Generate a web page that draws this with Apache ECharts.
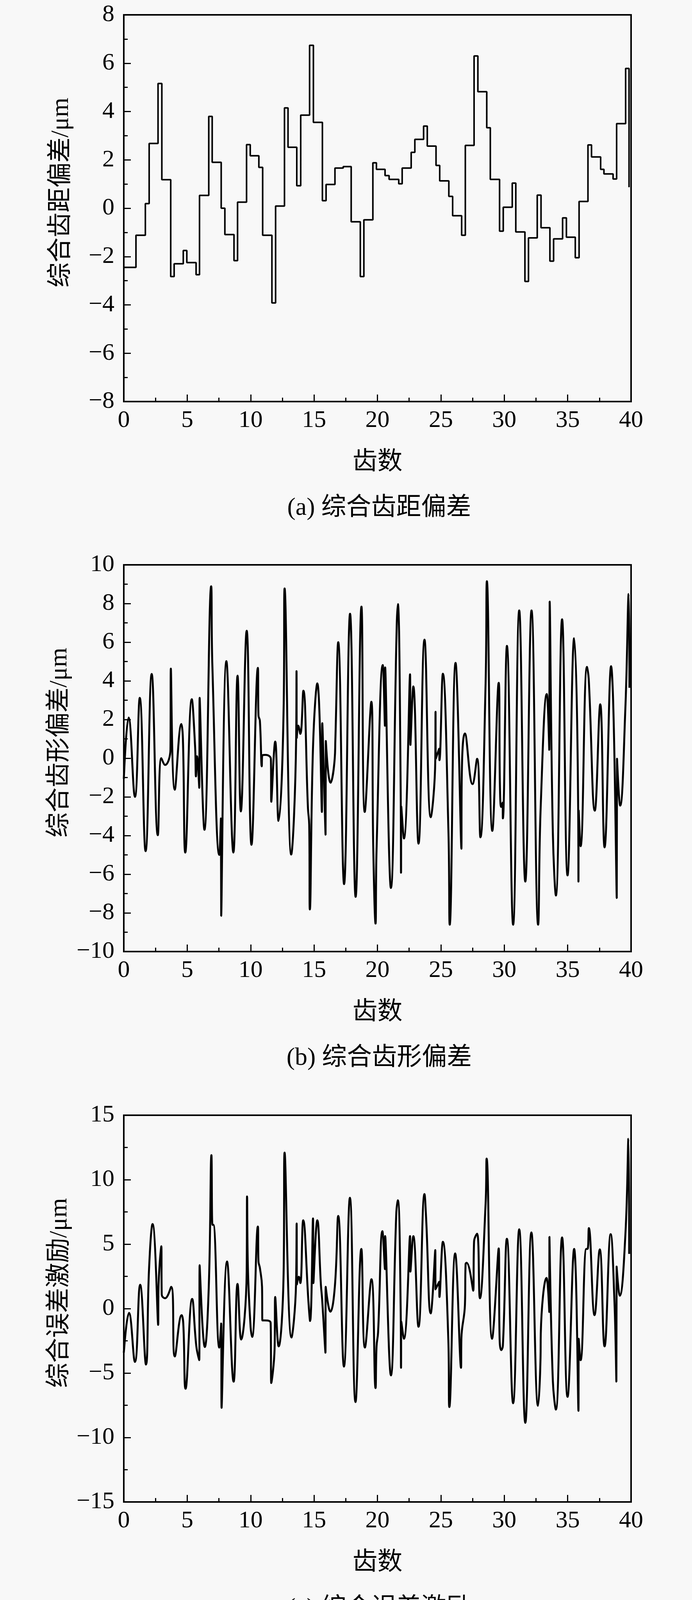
<!DOCTYPE html>
<html>
<head>
<meta charset="UTF-8">
<title>综合误差激励</title>
<script type="text/javascript" src="https://cdn.jsdelivr.net/npm/echarts@6/dist/echarts.min.js"></script>
<style>html,body{margin:0;padding:0;background:#f8f8f8;}</style>
</head>
<body>
<div id="main" style="width:1772px;height:4156px;"></div>

<script type="text/javascript">
// (a) 综合齿距偏差 - step line, x = tooth position where level starts
var pitchX = [0,0.96,1.7,2.0,2.7,3.0,3.7,3.97,4.69,4.97,5.7,5.97,6.7,6.97,7.68,7.97,8.69,8.97,9.68,9.97,
  10.65,10.95,11.68,11.97,12.67,12.95,13.64,13.95,14.65,14.95,15.66,15.95,16.65,17.3,17.93,18.65,18.93,19.64,19.92,
  20.6,20.92,21.68,21.95,22.66,22.95,23.64,23.93,24.62,24.91,25.63,25.93,26.64,26.93,27.62,27.92,28.62,28.9,29.63,29.92,
  30.63,30.91,31.63,31.91,32.6,32.9,33.6,33.89,34.6,34.9,35.6,35.9,36.6,36.88,37.6,37.86,38.58,38.86,39.57,39.84];
var pitchDev = [-2.45,-1.12,0.19,2.68,5.16,1.18,-2.83,-2.30,-1.75,-2.25,-2.75,0.53,3.80,1.90,0.0,-1.09,-2.17,0.25,2.63,2.17,
  1.69,-1.12,-3.92,0.09,4.15,2.52,0.93,3.85,6.74,3.55,0.31,0.98,1.66,1.72,-0.56,-2.83,-0.48,1.88,1.61,
  1.35,1.19,1.01,1.66,2.31,2.85,3.40,2.57,1.77,1.13,0.49,-0.31,-1.12,2.60,6.30,4.82,3.33,1.19,-0.95,0.04,
  1.04,-0.98,-3.03,-1.23,0.54,-0.81,-2.19,-1.27,-0.40,-1.20,-2.05,0.28,2.62,2.12,1.61,1.42,1.21,3.50,5.78,0.87];

// (b) 综合齿形偏差
var profileX = [0,0.38,0.88,1.26,1.72,2.20,2.68,2.96,3.25,3.68,3.71,4.02,4.54,4.66,4.85,5.36,5.62,5.69,5.77,5.95,5.98,
  6.36,6.89,6.98,7.53,7.66,7.68,8.09,8.64,8.97,9.23,9.69,10.07,10.57,10.62,10.73,10.88,10.91,11.17,11.6,11.63,11.94,
  12.2,12.61,12.68,13.2,13.59,13.62,13.64,13.76,13.92,14.16,14.52,14.62,14.67,14.93,15.26,15.62,15.65,15.91,15.93,
  16.3,16.63,16.68,16.91,17.37,17.84,18.28,18.74,19.0,19.52,19.67,19.85,19.93,20.42,20.59,20.61,21.06,21.52,21.61,
  21.83,21.86,21.88,22.09,22.57,22.6,22.83,23.24,23.71,24.2,24.56,24.58,24.6,24.87,24.89,25.16,25.6,25.7,26.16,
  26.62,26.64,26.9,27.5,27.86,28.12,28.53,28.63,29.06,29.56,29.66,29.76,29.87,29.89,30.21,30.7,31.18,31.66,32.15,
  32.67,32.87,33.35,33.55,33.58,33.83,34.07,34.56,34.99,35.51,35.83,35.85,35.87,36.02,36.52,36.66,37.14,37.57,
  37.91,38.42,38.87,38.89,39.14,39.55,39.81,39.87];
var profileDev = [-1.07,2.10,-2.0,3.12,-4.81,4.36,-3.98,0.0,-0.35,0.47,4.63,-1.63,1.77,1.02,-4.88,3.05,0.63,-0.94,0.1,-1.53,3.12,
  -3.70,8.89,4.89,-5.0,-3.11,-8.15,5.02,-4.88,4.27,-2.75,6.59,-4.48,4.67,2.2,1.94,-0.42,0.13,0.17,-0.05,-2.25,0.86,
  -3.24,2.86,8.78,-4.98,1.02,4.5,1.05,1.68,1.26,3.49,-2.58,-3.43,-7.82,0.76,3.87,-2.78,1.81,-3.96,0.89,
  -1.27,-0.03,0.9,6.0,-6.51,7.47,-7.17,7.84,-2.78,2.92,-4.61,-8.55,-4.74,4.82,1.68,4.69,-6.71,6.85,7.97,
  -1.47,-5.92,-2.5,-4.15,4.34,0.69,3.71,-4.42,6.13,-3.05,-0.09,2.4,-0.03,0.49,-0.1,4.37,-3.83,-8.61,4.93,
  -4.68,-1.5,1.28,-1.34,-0.03,-4.09,3.9,9.15,-3.76,3.9,-1.47,-2.52,-2.3,-3.11,5.81,-8.61,7.64,-6.38,7.64,
  -8.61,-2.58,3.32,0.43,8.1,-3.83,-7.1,7.18,-6.06,6.2,-2.78,-6.38,-2.7,-4.55,4.72,4.1,-2.71,2.79,
  -4.61,4.76,-7.23,-0.03,-2.45,2.59,8.49,3.64];

// (c) 综合误差激励
var errorX = [0,0.41,0.88,1.29,1.75,1.99,2.27,2.71,2.73,2.96,2.99,3.25,3.74,4.02,4.56,4.69,4.87,5.39,5.72,5.95,5.98,
  6.39,6.70,6.91,6.99,7.06,7.53,7.68,7.71,8.14,8.66,8.97,9.25,9.69,9.72,9.79,10.0,10.12,10.57,10.62,10.73,10.9,10.93,
  11.12,11.58,11.63,11.89,11.94,12.21,12.6,12.68,13.22,13.58,13.63,13.65,13.80,13.92,14.15,14.56,14.69,14.92,14.95,
  15.26,15.54,15.64,15.9,15.92,16.29,16.64,16.91,17.36,17.83,18.27,18.73,19.01,19.53,19.85,19.93,20.05,20.39,20.59,
  20.61,21.06,21.49,21.61,21.83,21.86,21.88,22.09,22.57,22.6,22.83,23.24,23.71,23.84,24.2,24.56,24.58,24.87,24.89,
  25.16,25.59,25.67,26.13,26.59,26.62,26.9,26.95,27.03,27.55,27.62,27.86,28.08,28.53,28.61,29.04,29.56,29.63,29.76,
  29.89,30.21,30.7,31.18,31.66,32.14,32.66,32.86,32.88,33.33,33.55,33.56,33.83,34.07,34.56,34.99,35.51,35.85,35.87,
  36.02,36.47,36.57,36.67,37.12,37.53,37.91,38.39,38.69,38.84,38.86,39.11,39.55,39.79,39.85];
var errorExc = [-3.42,-0.33,-4.14,1.85,-4.34,3.06,6.56,-1.26,1.34,4.83,1.1,0.8,1.69,-3.71,-0.51,-1.16,-6.22,0.75,-2.93,-4.0,3.36,
  -2.98,1.69,11.9,6.5,6.5,-3.02,-1.16,-7.7,3.65,-5.67,1.92,-2.4,2.87,8.7,3.0,-1.45,-2.2,6.36,3.65,3.16,1.69,-0.92,
  -0.92,-1.12,-5.77,-3.12,0.9,-2.93,2.67,12.1,-2.24,1.88,6.6,1.88,2.47,1.98,6.85,0.51,-0.96,6.99,1.98,
  6.85,1.88,0.71,-3.42,1.69,-0.24,1.69,7.19,-4.5,8.6,-7.25,4.63,-3.02,2.28,-6.17,-2.93,-1.85,6.01,3.06,
  5.62,-5.18,7.48,8.4,0.12,-4.59,-1.0,-2.34,5.62,2.87,5.62,-1.41,8.89,6.98,-0.37,4.54,1.49,2.08,0.9,
  5.18,-2.43,-7.64,4.28,-4.59,-2.3,0.31,3.46,3.55,1.39,5.22,5.81,0.8,8.17,11.64,-2.34,4.67,-2.24,-3.22,
  -2.9,5.42,-7.34,6.15,-8.86,5.91,-7.54,-3.81,-1.94,2.38,-0.27,5.56,-5.58,-7.83,5.52,-6.85,4.63,-7.93,-2.34,
  -4.0,4.63,4.63,6.24,-0.51,4.59,-2.93,5.77,0.51,-5.67,3.26,1.0,5.71,13.17,4.24];

var xTicks = {min: 0, max: 40, interval: 5};
var yNames = ['综合齿距偏差/μm', '综合齿形偏差/μm', '综合误差激励/μm'];
var captions = ['(a) 综合齿距偏差', '(b) 综合齿形偏差', '(c) 综合误差激励'];
var yRanges = [[-8, 8, 2], [-10, 10, 2], [-15, 15, 5]];

var FONT = "'Liberation Serif', 'Noto Sans CJK SC', serif";
var gridTops = [38, 1446, 2855];
var gridH = 990;

function zip(xs, ys) {
  var out = [];
  for (var i = 0; i < xs.length; i++) out.push([xs[i], ys[i]]);
  return out;
}
function fmt(v) {
  return v < 0 ? '\u2212' + (-v) : String(v);
}

var grids = [], xAxes = [], yAxes = [], titles = [];
for (var i = 0; i < 3; i++) {
  grids.push({left: 317, right: 156, top: gridTops[i], height: gridH,
    show: true, borderColor: '#000', borderWidth: 4, backgroundColor: 'transparent'});
  xAxes.push({
    type: 'value', gridIndex: i, min: xTicks.min, max: xTicks.max, interval: xTicks.interval,
    name: '齿数', nameLocation: 'middle', nameGap: 124,
    nameTextStyle: {fontFamily: FONT, fontSize: 64, color: '#000'},
    axisLine: {show: true, onZero: false, lineStyle: {color: '#000', width: 4}},
    axisTick: {show: true, inside: true, length: 18, lineStyle: {color: '#000', width: 3}},
    minorTick: {show: true, splitNumber: 2, length: 10, lineStyle: {color: '#000', width: 3}},
    axisLabel: {fontFamily: FONT, fontSize: 62, color: '#000', margin: 18, formatter: fmt},
    splitLine: {show: false}
  });
  yAxes.push({
    type: 'value', gridIndex: i, min: yRanges[i][0], max: yRanges[i][1], interval: yRanges[i][2],
    name: yNames[i], nameLocation: 'middle', nameRotate: 90, nameGap: 128,
    nameTextStyle: {fontFamily: FONT, fontSize: 64, color: '#000', padding: [0, 0, 0, 80]},
    axisLine: {show: true, onZero: false, lineStyle: {color: '#000', width: 4}},
    axisTick: {show: true, inside: true, length: 18, lineStyle: {color: '#000', width: 3}},
    minorTick: {show: true, splitNumber: 2, length: 10, lineStyle: {color: '#000', width: 3}},
    axisLabel: {fontFamily: FONT, fontSize: 62, color: '#000', margin: 24, formatter: fmt},
    splitLine: {show: false}
  });
  titles.push({
    text: captions[i], left: 966, textAlign: 'center', top: gridTops[i] + gridH + 236,
    textStyle: {fontFamily: FONT, fontSize: 64, fontWeight: 'normal', color: '#000'}
  });
}

var lineStyle = {color: '#000', width: 5};
var option = {
  backgroundColor: '#f8f8f8',
  animation: false,
  title: titles,
  grid: grids,
  xAxis: xAxes,
  yAxis: yAxes,
  series: [{
    type: 'line', xAxisIndex: 0, yAxisIndex: 0, step: 'end', showSymbol: false,
    lineStyle: {color: '#000', width: 4}, data: zip(pitchX, pitchDev)
  }, {
    type: 'line', xAxisIndex: 1, yAxisIndex: 1, smooth: 0.45, showSymbol: false,
    lineStyle: lineStyle, data: zip(profileX, profileDev)
  }, {
    type: 'line', xAxisIndex: 2, yAxisIndex: 2, smooth: 0.45, showSymbol: false,
    lineStyle: lineStyle, data: zip(errorX, errorExc)
  }]
};

var mychart = echarts.init(document.getElementById('main'));
mychart.setOption(option);
</script>
</body>
</html>
